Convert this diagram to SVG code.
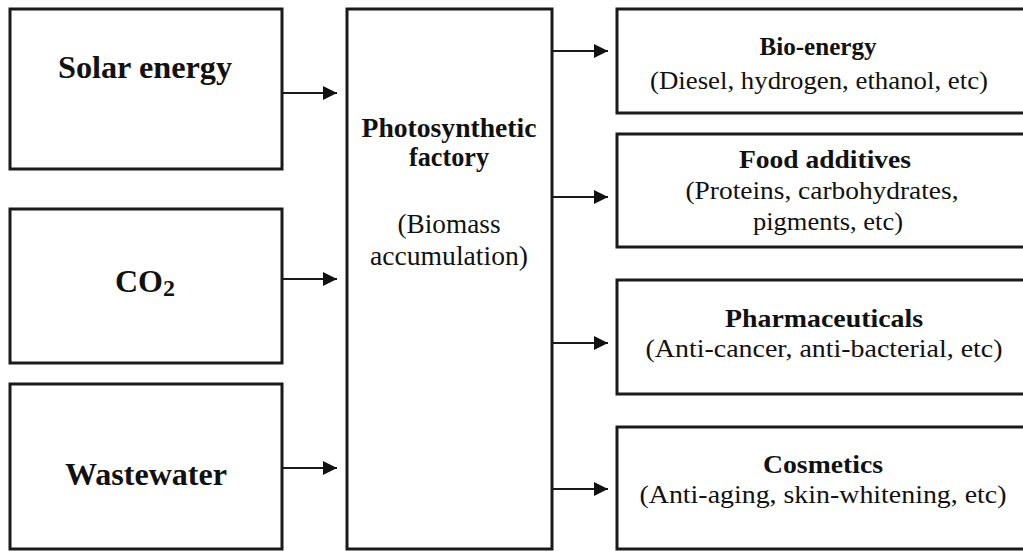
<svg xmlns="http://www.w3.org/2000/svg" width="1023" height="551" viewBox="0 0 1023 551">
<defs>
<marker id="ah" markerUnits="userSpaceOnUse" markerWidth="14" markerHeight="14" refX="14" refY="7" orient="auto">
<path d="M0,0 L14,7 L0,14 Z" fill="#111"/>
</marker>
<style>
.box{fill:#fff;stroke:#1a1a1a;stroke-width:3}
.t{fill:#111;text-anchor:middle}
.b{font-weight:bold}
.lg{font-size:32px}
.md{font-size:27px}
.sm{font-size:25px}
.conn line{stroke:#1a1a1a;stroke-width:2.2;marker-end:url(#ah)}
</style>
</defs>
<rect width="1023" height="551" fill="#fff"/>
<g font-family="'Liberation Serif', Tinos, 'Times New Roman', Times, serif">
<g id="solar">
<rect class="box" x="10" y="9" width="272" height="160"/>
<text class="t b lg" x="145" y="78" textLength="174" lengthAdjust="spacingAndGlyphs">Solar energy</text>
</g>
<g id="co2">
<rect class="box" x="10" y="209" width="272" height="154"/>
<text class="t b lg" x="145" y="292">CO<tspan font-size="24" dy="4">2</tspan></text>
</g>
<g id="wastewater">
<rect class="box" x="10" y="384" width="272" height="165"/>
<text class="t b lg" x="146" y="485" textLength="162" lengthAdjust="spacingAndGlyphs">Wastewater</text>
</g>
<g id="factory">
<rect class="box" x="347" y="9" width="205" height="540"/>
<text class="t b md" x="449" y="137" textLength="175" lengthAdjust="spacingAndGlyphs">Photosynthetic</text>
<text class="t b md" x="449" y="166" textLength="80" lengthAdjust="spacingAndGlyphs">factory</text>
<text class="t md" x="449" y="233" textLength="103" lengthAdjust="spacingAndGlyphs">(Biomass</text>
<text class="t md" x="449" y="265" textLength="158" lengthAdjust="spacingAndGlyphs">accumulation)</text>
</g>
<g id="bioenergy">
<rect class="box" x="617" y="9" width="412" height="104"/>
<text class="t b sm" x="818" y="55" textLength="117" lengthAdjust="spacingAndGlyphs">Bio-energy</text>
<text class="t sm" x="819" y="89" textLength="338" lengthAdjust="spacingAndGlyphs">(Diesel, hydrogen, ethanol, etc)</text>
</g>
<g id="food">
<rect class="box" x="617" y="134" width="412" height="113"/>
<text class="t b sm" x="825" y="168" textLength="172" lengthAdjust="spacingAndGlyphs">Food additives</text>
<text class="t sm" x="822" y="199" textLength="273" lengthAdjust="spacingAndGlyphs">(Proteins, carbohydrates,</text>
<text class="t sm" x="828" y="230" textLength="150" lengthAdjust="spacingAndGlyphs">pigments, etc)</text>
</g>
<g id="pharma">
<rect class="box" x="617" y="280" width="412" height="114"/>
<text class="t b sm" x="824" y="327" textLength="198" lengthAdjust="spacingAndGlyphs">Pharmaceuticals</text>
<text class="t sm" x="824" y="357" textLength="357" lengthAdjust="spacingAndGlyphs">(Anti-cancer, anti-bacterial, etc)</text>
</g>
<g id="cosmetics">
<rect class="box" x="617" y="427" width="412" height="122"/>
<text class="t b sm" x="823" y="473" textLength="120" lengthAdjust="spacingAndGlyphs">Cosmetics</text>
<text class="t sm" x="823" y="503" textLength="367" lengthAdjust="spacingAndGlyphs">(Anti-aging, skin-whitening, etc)</text>
</g>
</g>
<g id="connectors" class="conn">
<line x1="283" y1="93" x2="337" y2="93"/>
<line x1="283" y1="279" x2="337" y2="279"/>
<line x1="283" y1="468" x2="337" y2="468"/>
<line x1="553" y1="51" x2="608" y2="51"/>
<line x1="553" y1="197" x2="608" y2="197"/>
<line x1="553" y1="343" x2="608" y2="343"/>
<line x1="553" y1="489" x2="608" y2="489"/>
</g>
</svg>
